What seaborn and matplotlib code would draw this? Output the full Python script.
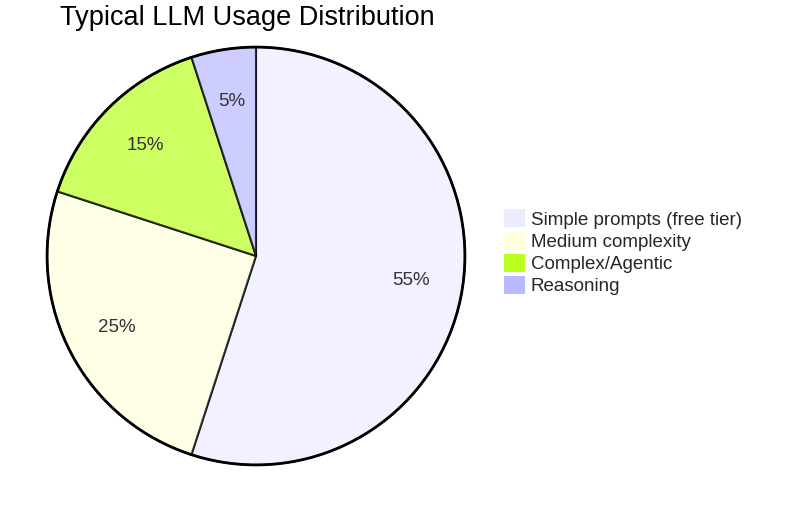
import matplotlib
matplotlib.use("Agg")
import matplotlib.pyplot as plt
import seaborn as sns
from matplotlib.patches import Patch

sns.set_theme(style="white")
plt.rcParams['font.family'] = ['Liberation Sans', 'DejaVu Sans']

# data
labels = ["Simple prompts (free tier)", "Medium complexity", "Complex/Agentic", "Reasoning"]
values = [55, 25, 15, 5]
colors = ["#ECECFF", "#FFFFDE", "#B9FF1F", "#B9B9FF"]

fig = plt.figure(figsize=(8, 5.12), dpi=100)
ax = fig.add_axes([45 / 800, 1 - 467 / 512, 422 / 800, 422 / 512])

wedges, texts, autotexts = ax.pie(
    values, colors=colors, startangle=90, counterclock=False,
    autopct='%1.0f%%', pctdistance=0.75,
    wedgeprops=dict(edgecolor="black", linewidth=1.5, alpha=0.7),
    textprops=dict(fontsize=13.5, color="#333333"))
for w in wedges:
    w.set_edgecolor((0, 0, 0, 1))
ax.add_patch(plt.Circle((0, 0), 1, fill=False, edgecolor="black", linewidth=2))
ax.set_xlim(-1.01, 1.01)
ax.set_ylim(-1.01, 1.01)
ax.set_aspect("equal")
ax.axis("off")

fig.text(60 / 800, 1 - 18 / 512, "Typical LLM Usage Distribution",
         fontsize=19.5, va="center", ha="left", color="black")

handles = [Patch(facecolor=c, edgecolor="none") for c in colors]
fig.legend(handles, labels, loc="upper left", bbox_to_anchor=(495 / 800, 1 - 200 / 512),
           frameon=False, fontsize=13.5, handlelength=1.1, handleheight=1.1,
           handletextpad=0.3, labelspacing=0.15, borderpad=0)

fig.savefig("out.png", dpi=100)
